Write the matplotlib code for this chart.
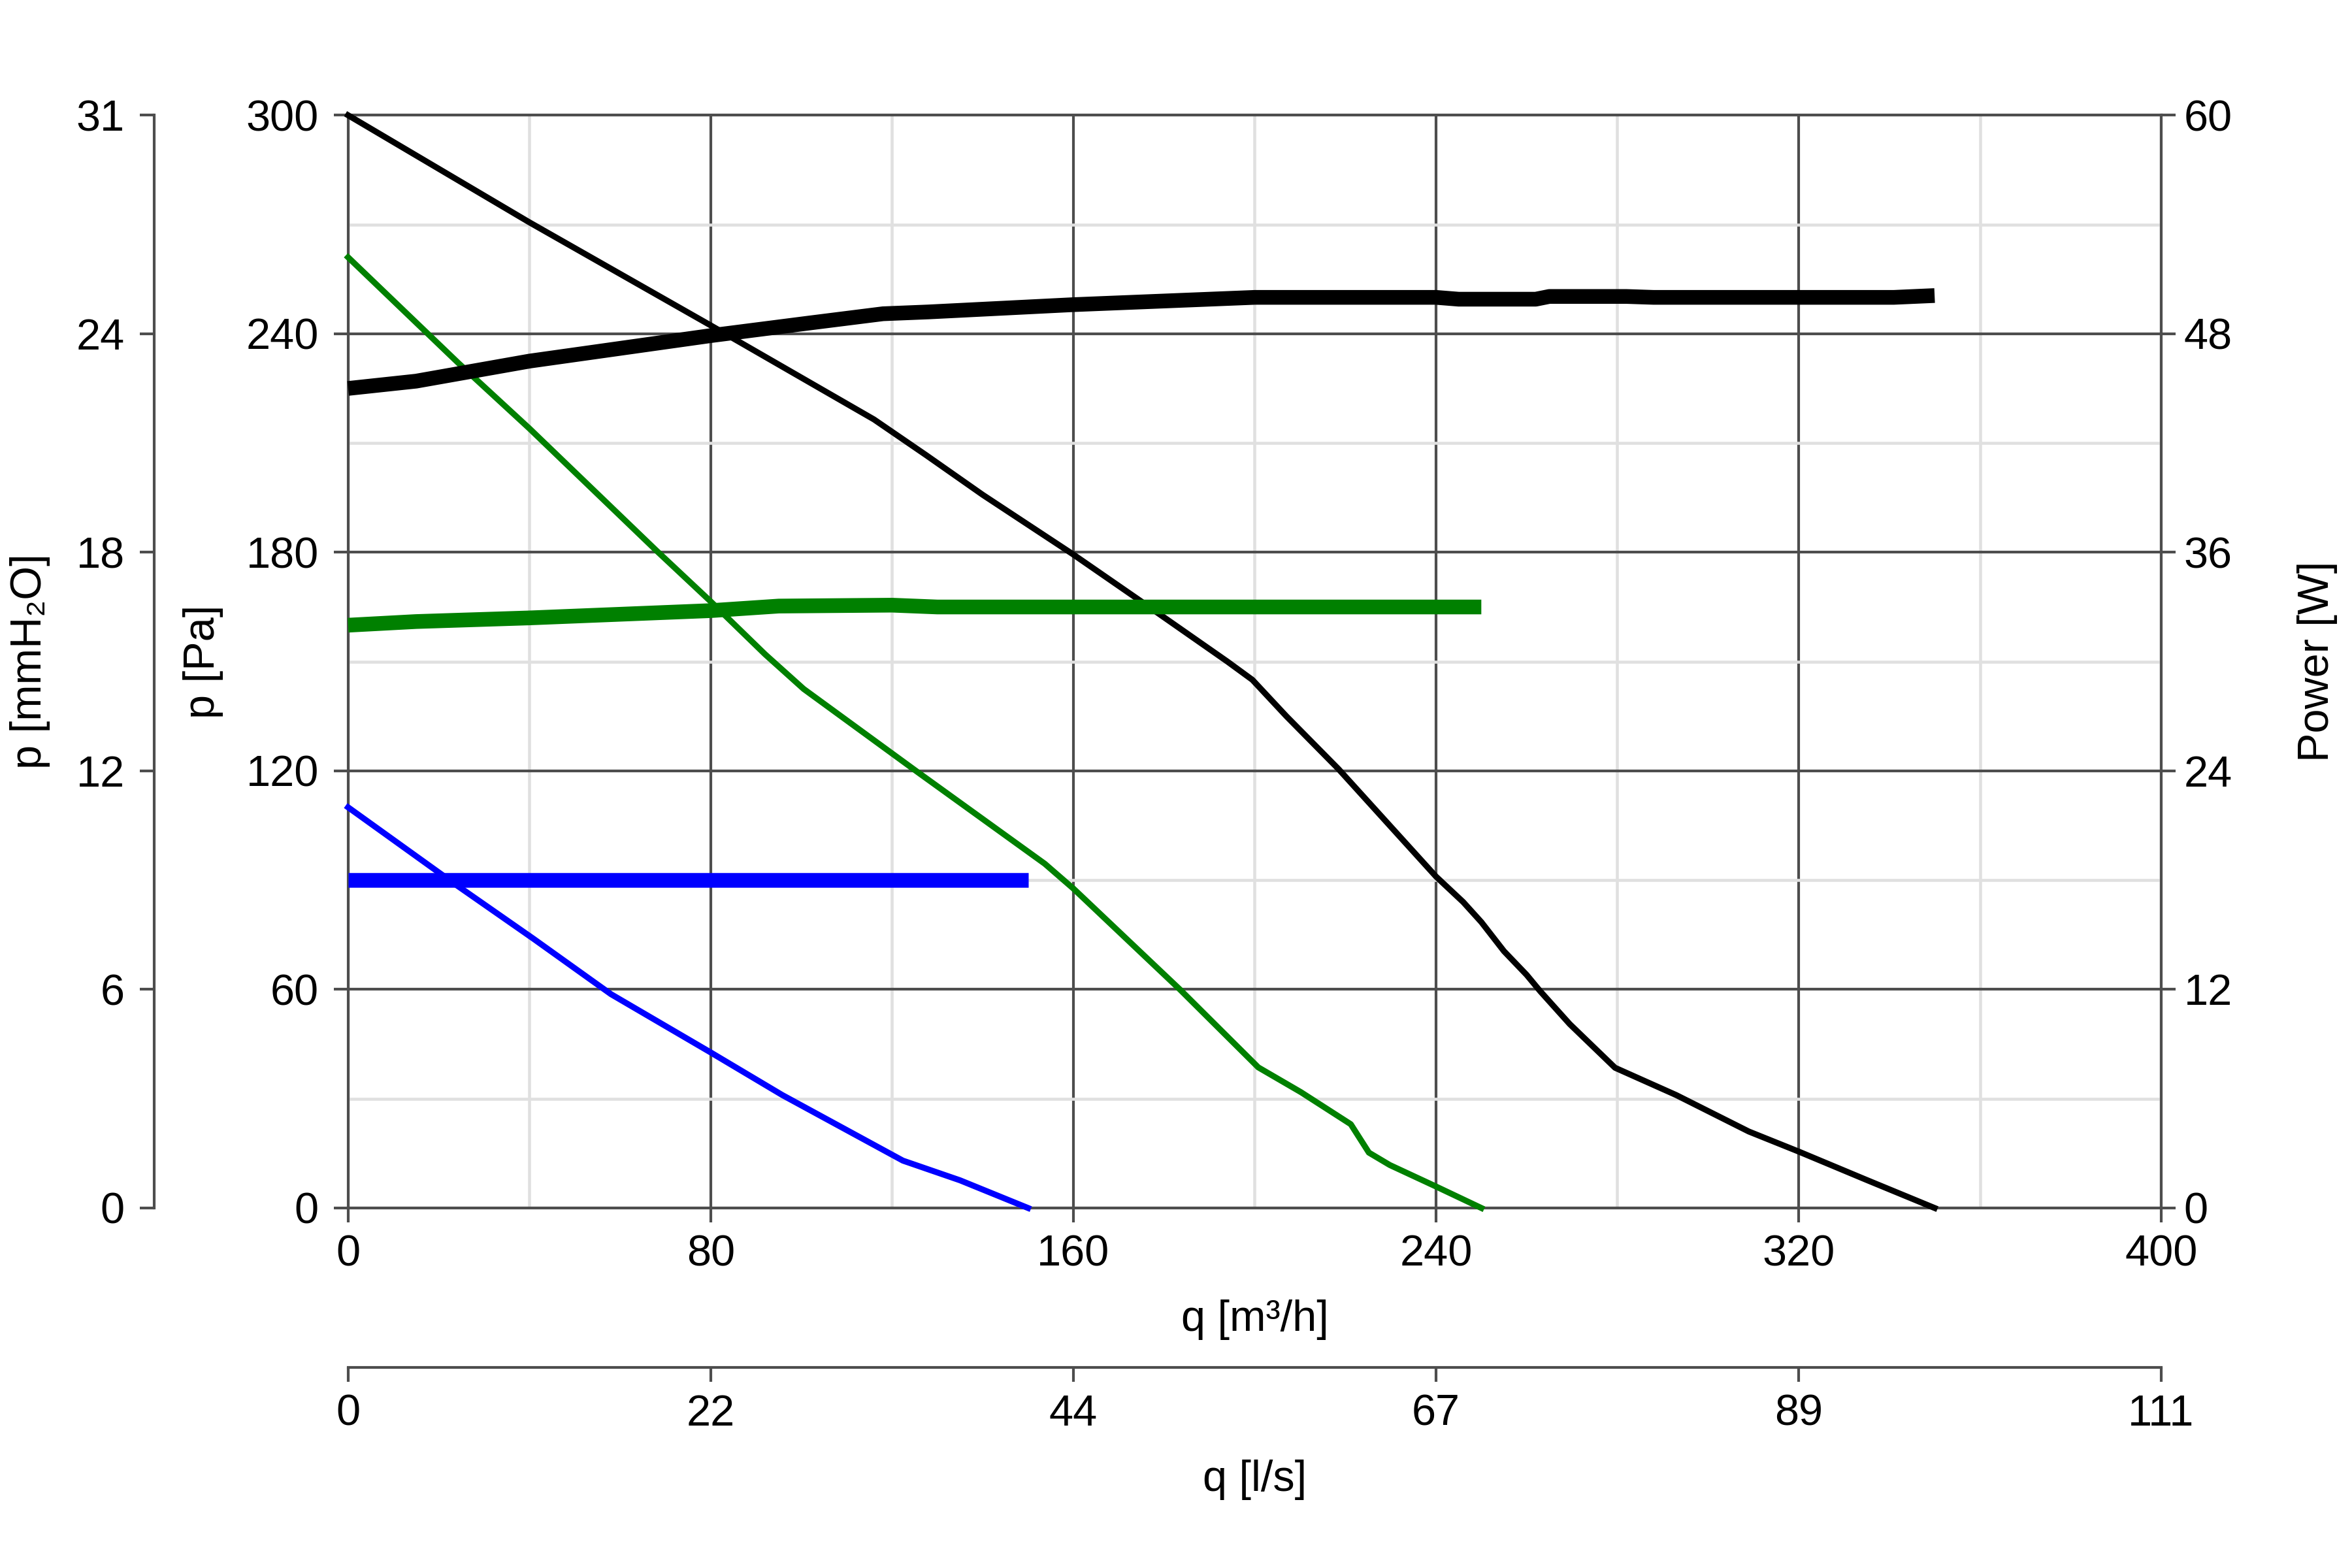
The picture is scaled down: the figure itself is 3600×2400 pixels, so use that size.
import matplotlib.pyplot as plt
from matplotlib.ticker import MultipleLocator

plt.rcParams['font.family'] = ['Liberation Sans', 'DejaVu Sans']
plt.rcParams['font.size'] = 16

# pressure curves, q [m3/h] -> p [Pa]
q_black = [0, 40, 80, 116, 127.5, 140, 160, 175, 194, 199.5, 207, 218.5, 240, 246, 250, 255,
           260, 263, 269.5, 279.5, 293, 309, 320, 335, 350]
p_black = [300, 270.6, 242.3, 216.5, 206.7, 195.8, 179.4, 166.5, 150, 145, 135, 120.5, 91, 84,
           78.5, 70.5, 64, 59.5, 50.5, 38.5, 31, 21, 15.5, 7.7, 0]

q_green = [0, 24.3, 40, 68, 80, 92, 100.5, 125.5, 153.7, 160, 183.5, 200.8, 210.2, 221.2,
           225.2, 229.8, 240, 250]
p_green = [261, 232, 214, 180.5, 166.5, 152, 142.5, 119.8, 94.5, 87.7, 60, 38.6, 31.8,
           23, 15.2, 11.8, 5.9, 0]

q_blue = [0, 23.5, 40.8, 58, 80, 95.8, 122.4, 135, 150]
p_blue = [110, 89, 74, 58.7, 42.7, 31, 13, 7.6, 0]

# power curves, q [m3/h] -> W
qw_black = [0, 15, 40, 80, 102, 118, 128, 160, 200, 240, 245, 262, 265, 282, 288, 341, 350]
w_black = [45.0, 45.4, 46.5, 47.9, 48.6, 49.1, 49.2, 49.6, 50.0, 50.0, 49.9, 49.9, 50.05,
           50.05, 50.0, 50.0, 50.1]

qw_green = [0, 15, 40, 80, 95, 120, 130, 250]
w_green = [32.0, 32.2, 32.4, 32.8, 33.05, 33.1, 33.0, 33.0]

qw_blue = [0, 150]
w_blue = [18, 18]

q_ticks = [0, 80, 160, 240, 320, 400]
pa_ticks = [0, 60, 120, 180, 240, 300]
w_ticks = [0, 12, 24, 36, 48, 60]

PA_PER_MM = 9.80665
M3H_PER_LS = 3.6

dark = '#4d4d4d'
light = '#e0e0e0'
tick_kw = dict(length=5.3, width=1.0, color=dark, labelcolor='black', labelsize=16)

fig = plt.figure(figsize=(12, 8), dpi=300)
ax = fig.add_axes([0.148, 0.2296, 0.9189 - 0.148, 0.9265 - 0.2296])

ax.set_xlim(0, 400)
ax.set_ylim(0, 300)
ax.set_xticks(q_ticks)
ax.set_yticks(pa_ticks)
ax.xaxis.set_minor_locator(MultipleLocator(40))
ax.yaxis.set_minor_locator(MultipleLocator(30))
ax.grid(which='major', color=dark, lw=1.0)
ax.grid(which='minor', color=light, lw=1.1)
ax.set_axisbelow(True)
ax.tick_params(which='major', pad=4.5, **tick_kw)
ax.tick_params(axis='y', pad=5.5)
ax.tick_params(which='minor', length=0)
for s in ax.spines.values():
    s.set_color(dark)
    s.set_linewidth(1.0)
ax.spines['right'].set_visible(False)

ax.plot(q_black, p_black, color='black', lw=2.2, clip_on=False, zorder=3)
ax.plot(q_green, p_green, color='#008000', lw=2.2, clip_on=False, zorder=3)
ax.plot(q_blue, p_blue, color='#0000ff', lw=2.2, clip_on=False, zorder=3)

ax.set_xlabel('q [m³/h]', fontsize=16)
ax.xaxis.label.set_va('center')
ax.xaxis.set_label_coords(0.5, -0.102)
ax.set_ylabel('p [Pa]', fontsize=16)
ax.yaxis.label.set_va('center')
ax.yaxis.set_label_coords(-0.080, 0.5)

# power axis on the right
axw = ax.twinx()
axw.set_ylim(0, 60)
axw.set_yticks(w_ticks)
axw.tick_params(axis='y', pad=3, **tick_kw)
for s in axw.spines.values():
    s.set_visible(False)
axw.spines['right'].set_visible(True)
axw.spines['right'].set_color(dark)
axw.spines['right'].set_linewidth(1.0)
axw.plot(qw_black, w_black, color='black', lw=5.4, solid_capstyle='butt', clip_on=False)
axw.plot(qw_green, w_green, color='#008000', lw=5.4, solid_capstyle='butt', clip_on=False)
axw.plot(qw_blue, w_blue, color='#0000ff', lw=5.4, solid_capstyle='butt', clip_on=False)
axw.set_ylabel('Power [W]', fontsize=16)
axw.yaxis.label.set_va('center')
axw.yaxis.set_label_coords(1.086, 0.5)

# mmH2O axis on the far left
axm = ax.twinx()
axm.set_ylim(0, 300 / PA_PER_MM)
axm.set_yticks([p / PA_PER_MM for p in pa_ticks])
axm.set_yticklabels([f'{p / PA_PER_MM:.0f}' for p in pa_ticks])
axm.yaxis.set_ticks_position('left')
axm.yaxis.set_label_position('left')
for s in axm.spines.values():
    s.set_visible(False)
axm.spines['left'].set_visible(True)
axm.spines['left'].set_position(('axes', -0.107))
axm.spines['left'].set_color(dark)
axm.spines['left'].set_linewidth(1.0)
axm.tick_params(axis='y', pad=5.5, **tick_kw)
axm.set_ylabel('p [mmH₂O]', fontsize=16)
axm.yaxis.label.set_va('center')
axm.yaxis.set_label_coords(-0.1755, 0.5)

# l/s axis below
axl = ax.twiny()
axl.set_xlim(0, 400 / M3H_PER_LS)
axl.set_xticks([q / M3H_PER_LS for q in q_ticks])
axl.set_xticklabels([f'{q / M3H_PER_LS:.0f}' for q in q_ticks])
axl.xaxis.set_ticks_position('bottom')
axl.xaxis.set_label_position('bottom')
for s in axl.spines.values():
    s.set_visible(False)
axl.spines['bottom'].set_visible(True)
axl.spines['bottom'].set_position(('axes', -0.146))
axl.spines['bottom'].set_color(dark)
axl.spines['bottom'].set_linewidth(1.0)
axl.tick_params(axis='x', pad=4.5, **tick_kw)
axl.set_xlabel('q [l/s]', fontsize=16)
axl.xaxis.label.set_va('center')
axl.xaxis.set_label_coords(0.5, -0.249)

fig.savefig('out.png', dpi=300)
